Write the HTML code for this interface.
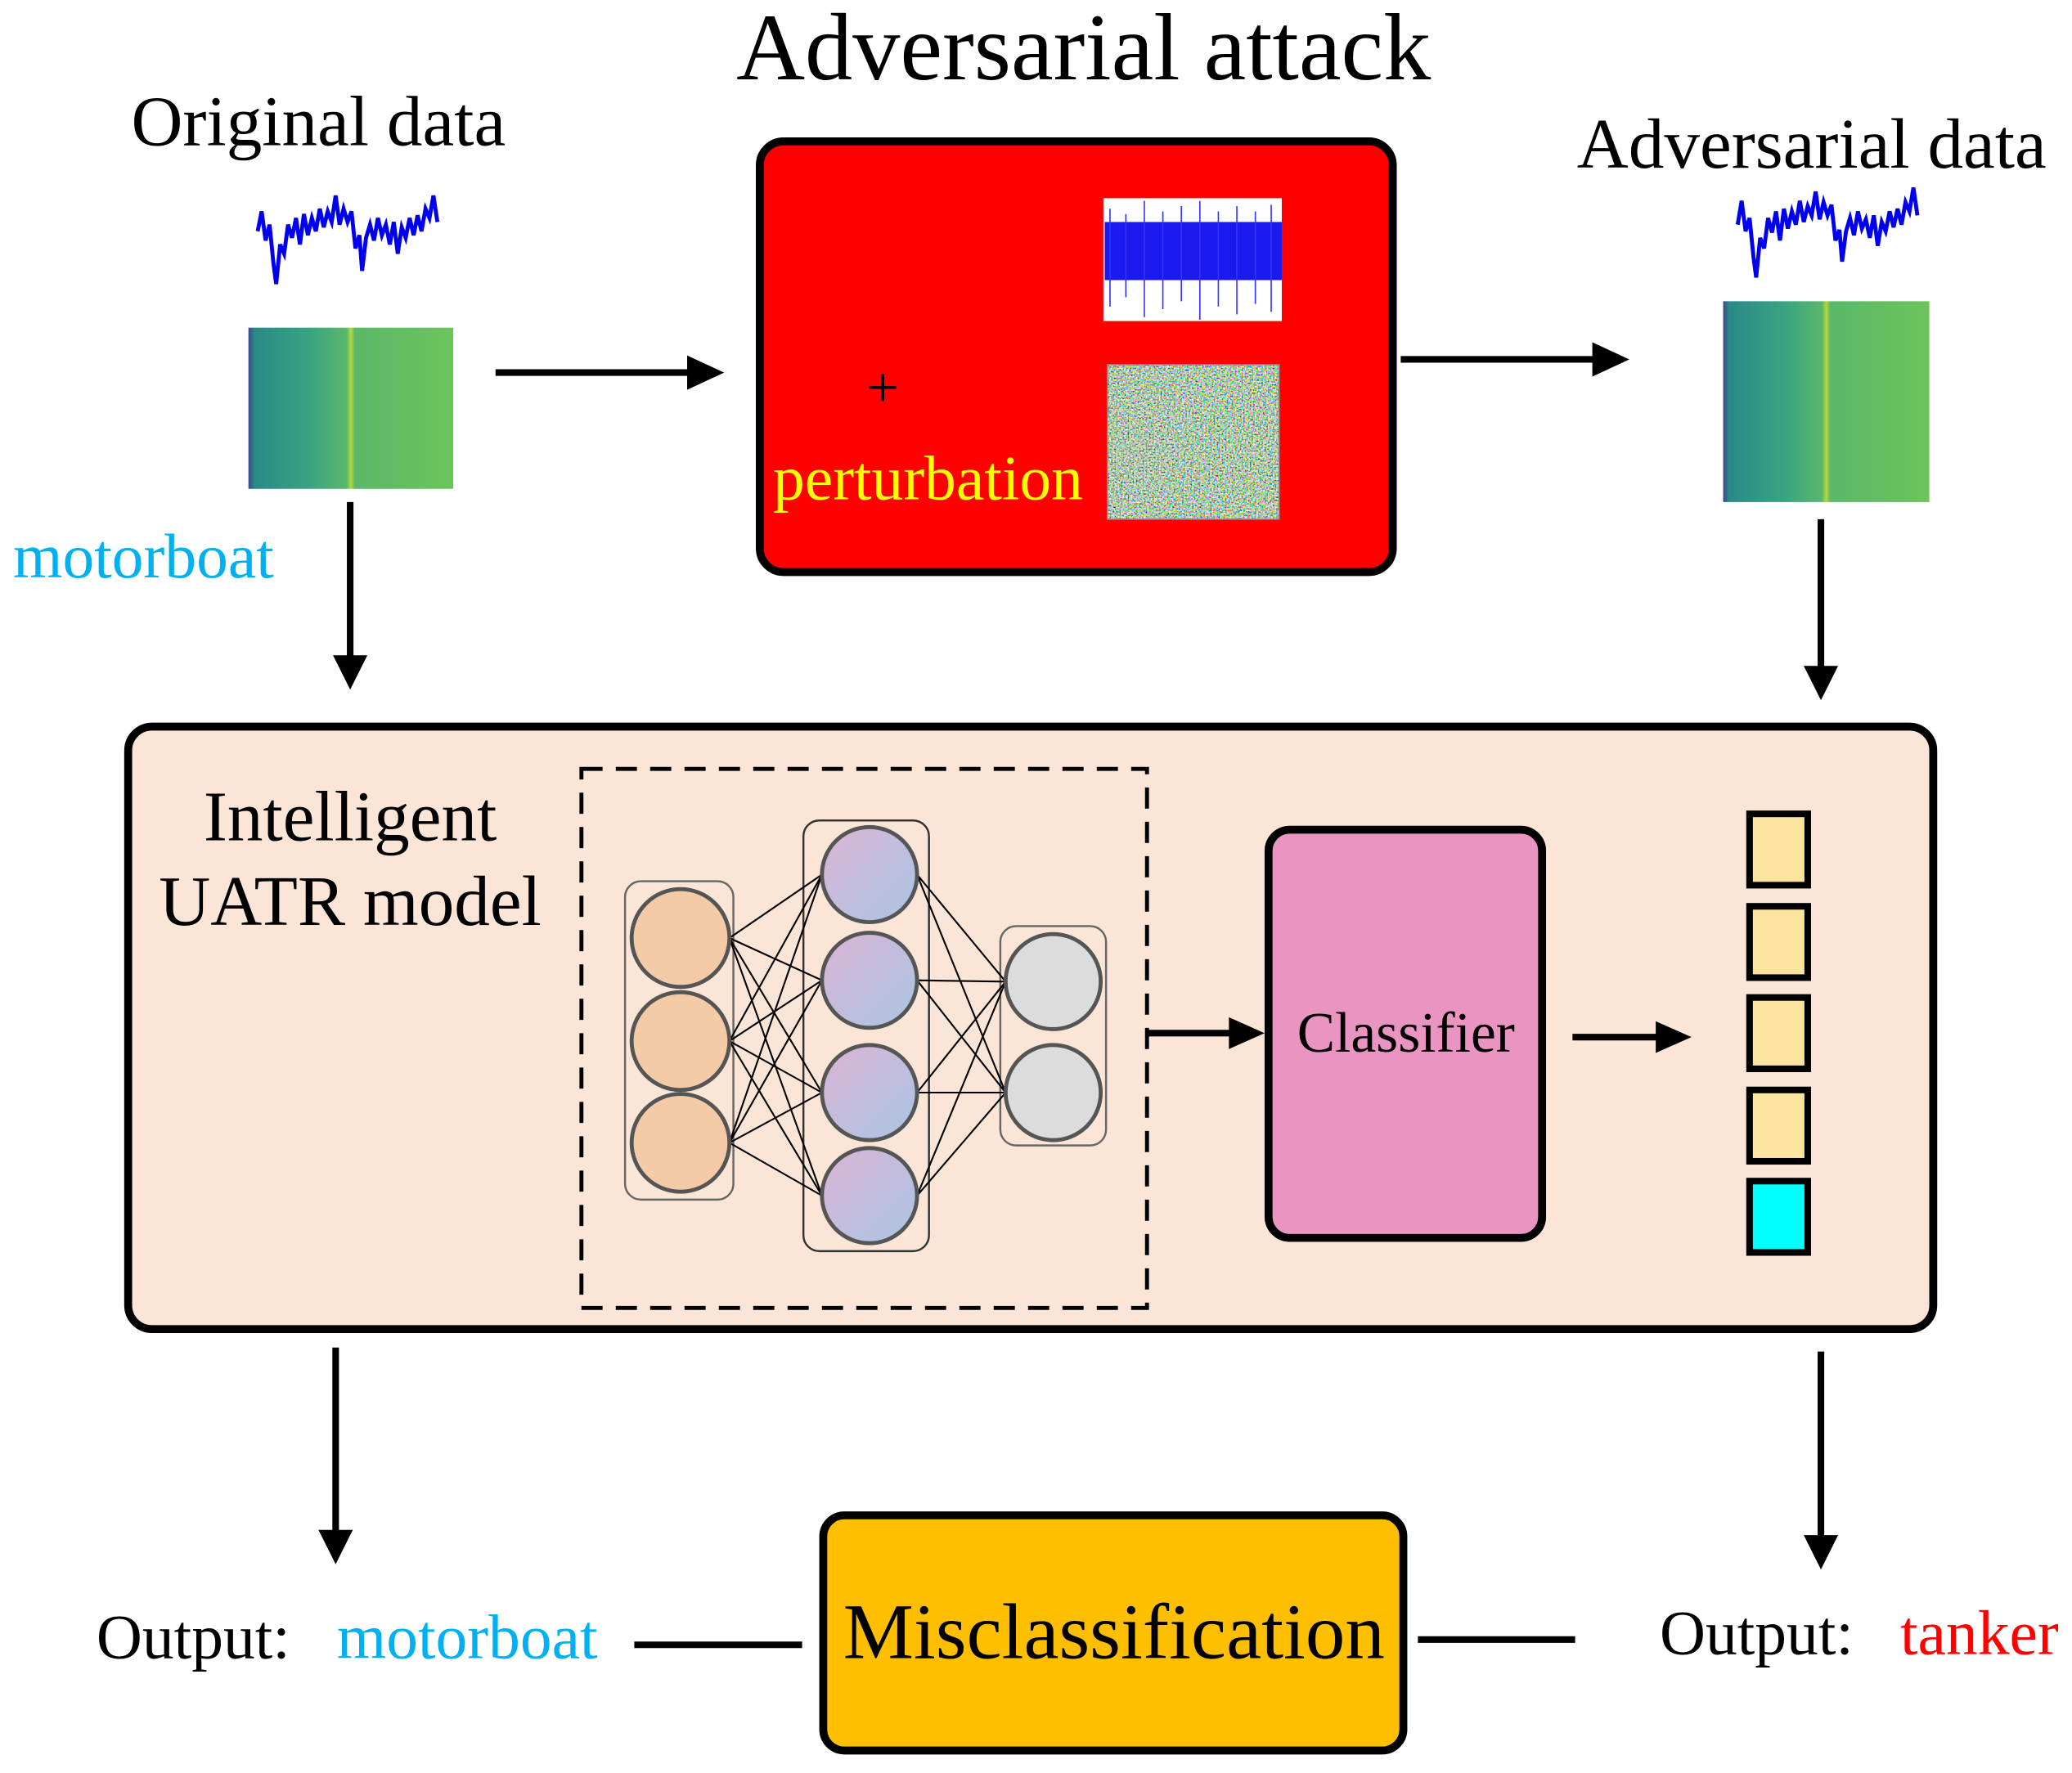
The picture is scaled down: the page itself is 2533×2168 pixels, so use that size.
<!DOCTYPE html>
<html><head><meta charset="utf-8"><style>
html,body{margin:0;padding:0;background:#fff}
svg{display:block}
text{font-family:"Liberation Serif",serif}
</style></head><body>
<svg width="2533" height="2168" viewBox="0 0 1568 1342" xmlns="http://www.w3.org/2000/svg">
<defs>
<linearGradient id="spec" x1="0" x2="1" y1="0" y2="0">
<stop offset="0" stop-color="#3a4a8c"/><stop offset="0.03" stop-color="#2a8a86"/>
<stop offset="0.3" stop-color="#3aa383"/><stop offset="0.48" stop-color="#5ab86a"/>
<stop offset="0.5" stop-color="#b8d83a"/><stop offset="0.52" stop-color="#5ab86a"/>
<stop offset="1" stop-color="#6cc45a"/></linearGradient>
<linearGradient id="purp" x1="0" y1="0" x2="1" y2="1">
<stop offset="0" stop-color="#dcb3d6"/><stop offset="1" stop-color="#a9c6e3"/></linearGradient>
<filter id="noise" x="0" y="0" width="1" height="1" filterUnits="objectBoundingBox"><feTurbulence type="fractalNoise" baseFrequency="0.8" numOctaves="2" seed="3"/>
<feColorMatrix type="matrix" values="3 0 0 0 -1  0 2.2 0 0 -0.5  0 0 3 0 -1  0 0 0 0 1"/></filter>
</defs>

<text x="820" y="60" font-size="72" text-anchor="middle">Adversarial attack</text>
<text x="241" y="110" font-size="54" text-anchor="middle">Original data</text>
<text x="1371" y="127" font-size="54" text-anchor="middle">Adversarial data</text>

<path d="M195 175 L198 160 L201 182 L204 170 L207 200 L209 215 L212 185 L215 192 L218 170 L221 180 L224 165 L227 185 L230 162 L233 178 L236 165 L239 175 L242 158 L245 172 L248 160 L251 168 L254 148 L257 170 L260 158 L263 168 L266 160 L269 188 L272 178 L274 205 L277 180 L280 170 L283 182 L286 165 L289 178 L292 170 L295 185 L298 168 L301 192 L304 172 L307 180 L310 165 L313 178 L316 163 L319 175 L322 158 L325 165 L328 148 L331 168" fill="none" stroke="#0000ee" stroke-width="3"/>
<path d="M1315 170 L1318 152 L1321 175 L1324 165 L1327 195 L1329 210 L1332 180 L1335 188 L1338 165 L1341 176 L1344 160 L1347 182 L1350 158 L1353 173 L1356 160 L1359 170 L1362 152 L1365 168 L1368 156 L1371 163 L1374 145 L1377 166 L1380 153 L1383 163 L1386 155 L1389 182 L1392 174 L1394 198 L1397 175 L1400 165 L1403 178 L1406 160 L1409 173 L1412 166 L1415 180 L1418 163 L1421 186 L1424 168 L1427 175 L1430 160 L1433 172 L1436 158 L1439 170 L1442 153 L1445 160 L1448 142 L1451 163" fill="none" stroke="#0000ee" stroke-width="3"/>

<rect x="188" y="248" width="155" height="122" fill="url(#spec)"/>
<rect x="1304" y="228" width="156" height="152" fill="url(#spec)"/>

<text x="10" y="437" font-size="48" fill="#00b0f0">motorboat</text>

<!-- red box -->
<rect x="575" y="107" width="479" height="326" rx="18" fill="#ff0000" stroke="#000" stroke-width="6"/>
<rect x="835" y="150" width="135" height="93" fill="#fff"/>
<rect x="836" y="168" width="134" height="44" fill="#1a1aee"/>
<path d="M840 158 V232 M852 162 V225 M866 152 V240 M880 160 V234 M894 156 V228 M908 152 V242 M922 160 V232 M936 156 V238 M950 160 V230 M962 155 V236" stroke="#3333ff" stroke-width="1"/>
<text x="668" y="308" font-size="44" text-anchor="middle">+</text>
<text x="585" y="378" font-size="48" fill="#ffff00">perturbation</text>
<rect x="838" y="276" width="130" height="117" fill="#7fb0a0" filter="url(#noise)"/>
<rect x="838" y="276" width="130" height="117" fill="none" stroke="#888" stroke-width="1"/>

<!-- big box -->
<rect x="97" y="550" width="1366" height="456" rx="18" fill="#fae5d6" stroke="#000" stroke-width="6"/>
<text x="265" y="636" font-size="54" text-anchor="middle">Intelligent</text>
<text x="265" y="700" font-size="54" text-anchor="middle">UATR model</text>
<rect x="440" y="582" width="428" height="408" fill="none" stroke="#000" stroke-width="3" stroke-dasharray="16,10"/>

<rect x="473" y="667" width="82" height="241" rx="12" fill="none" stroke="#666" stroke-width="1.5"/>
<rect x="608" y="621" width="95" height="326" rx="12" fill="none" stroke="#333" stroke-width="1.5"/>
<rect x="757" y="701" width="80" height="166" rx="12" fill="none" stroke="#666" stroke-width="1.5"/>
<g stroke="#000" stroke-width="1.3">
<path d="M552 710 L622 662 M552 710 L622 742 M552 710 L622 827 M552 710 L622 905
M552 788 L622 662 M552 788 L622 742 M552 788 L622 827 M552 788 L622 905
M552 865 L622 662 M552 865 L622 742 M552 865 L622 827 M552 865 L622 905
M694 662 L761 743 M694 662 L761 827 M694 742 L761 743 M694 742 L761 827
M694 827 L761 743 M694 827 L761 827 M694 905 L761 743 M694 905 L761 827"/>
</g>
<g stroke="#555" stroke-width="3">
<circle cx="515" cy="710" r="37" fill="#f5cba7"/>
<circle cx="515" cy="788" r="37" fill="#f5cba7"/>
<circle cx="515" cy="865" r="37" fill="#f5cba7"/>
<circle cx="658" cy="662" r="36" fill="url(#purp)"/>
<circle cx="658" cy="742" r="36" fill="url(#purp)"/>
<circle cx="658" cy="827" r="36" fill="url(#purp)"/>
<circle cx="658" cy="905" r="36" fill="url(#purp)"/>
<circle cx="797" cy="743" r="36" fill="#dcdcdc"/>
<circle cx="797" cy="827" r="36" fill="#dcdcdc"/>
</g>

<rect x="960" y="628" width="207" height="309" rx="16" fill="#ea94c2" stroke="#000" stroke-width="6"/>
<text x="1064" y="796" font-size="43" text-anchor="middle">Classifier</text>

<g stroke="#000" stroke-width="5">
<rect x="1324" y="616" width="44" height="54" fill="#fde49e"/>
<rect x="1324" y="686" width="44" height="54" fill="#fde49e"/>
<rect x="1324" y="755" width="44" height="54" fill="#fde49e"/>
<rect x="1324" y="825" width="44" height="54" fill="#fde49e"/>
<rect x="1324" y="894" width="44" height="54" fill="#00ffff"/>
</g>

<!-- arrows -->
<g stroke="#000" stroke-width="5">
<line x1="375" y1="282" x2="525" y2="282"/>
<line x1="1060" y1="272" x2="1210" y2="272"/>
<line x1="265" y1="380" x2="265" y2="500"/>
<line x1="1378" y1="393" x2="1378" y2="508"/>
<line x1="868" y1="782" x2="935" y2="782"/>
<line x1="1190" y1="785" x2="1258" y2="785"/>
<line x1="254" y1="1020" x2="254" y2="1162"/>
<line x1="1378" y1="1023" x2="1378" y2="1166"/>
<line x1="480" y1="1245" x2="607" y2="1245"/>
<line x1="1073" y1="1241" x2="1192" y2="1241"/>
</g>
<g fill="#000">
<polygon points="548,282 520,269 520,295"/>
<polygon points="1233,272 1205,259 1205,285"/>
<polygon points="265,522 252,496 278,496"/>
<polygon points="1378,530 1365,504 1391,504"/>
<polygon points="957,782 930,770 930,794"/>
<polygon points="1280,785 1253,773 1253,797"/>
<polygon points="254,1184 241,1158 267,1158"/>
<polygon points="1378,1188 1365,1162 1391,1162"/>
</g>

<text x="73" y="1255" font-size="48">Output:</text>
<text x="255" y="1255" font-size="48" fill="#00b0f0">motorboat</text>
<rect x="623" y="1147" width="439" height="178" rx="16" fill="#fdbf00" stroke="#000" stroke-width="6"/>
<text x="843" y="1255" font-size="60" text-anchor="middle">Misclassification</text>
<text x="1256" y="1252" font-size="48">Output:</text>
<text x="1438" y="1252" font-size="48" fill="#ff0000">tanker</text>
</svg>
</body></html>
